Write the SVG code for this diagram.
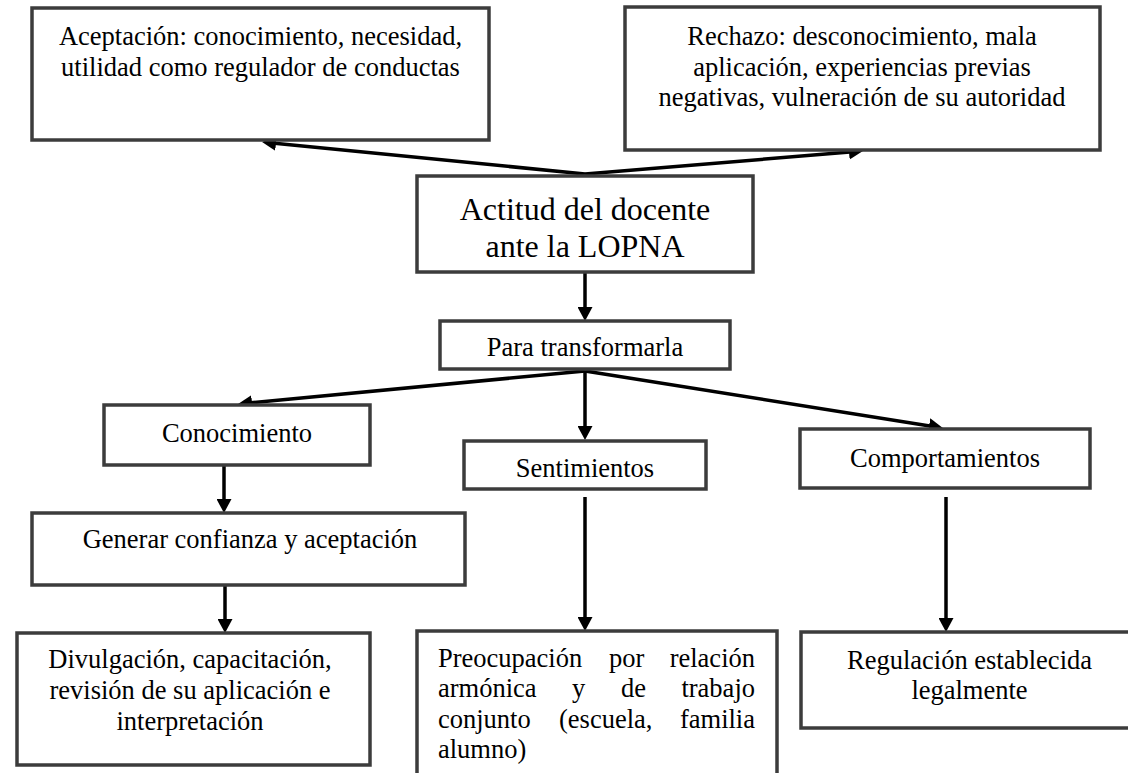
<svg xmlns="http://www.w3.org/2000/svg" width="1128" height="773" viewBox="0 0 1128 773">
<style>
.box{fill:#ffffff;stroke:#3c3c3c;stroke-width:3.5}
.t{font-family:"Liberation Serif","Times New Roman",serif;font-size:26.5px;fill:#000000}
.c{text-anchor:middle}
.e{text-anchor:end}
.big{font-size:32px}
.ln{stroke:#000000;stroke-width:3.5;fill:none;marker-end:url(#ah)}
</style>
<defs>
<marker id="ah" viewBox="0 0 14 15" refX="4" refY="7.5" markerWidth="14" markerHeight="15" markerUnits="userSpaceOnUse" orient="auto">
<path d="M0,0 L14,7.5 L0,15 z" fill="#000000"/>
</marker>
</defs>
<rect width="1128" height="773" fill="#ffffff"/>
<g id="connectors">
<line class="ln" x1="585" y1="174" x2="272" y2="143"/>
<line class="ln" x1="585" y1="174" x2="853" y2="151.8"/>
<line class="ln" x1="585" y1="272" x2="585" y2="311"/>
<line class="ln" x1="585" y1="371" x2="248" y2="403"/>
<line class="ln" x1="585" y1="371" x2="585" y2="430"/>
<line class="ln" x1="585" y1="371" x2="933" y2="426.4"/>
<line class="ln" x1="224" y1="465" x2="224" y2="503"/>
<line class="ln" x1="225" y1="585" x2="225" y2="623"/>
<line class="ln" x1="585" y1="497" x2="585" y2="621"/>
<line class="ln" x1="946" y1="497" x2="946" y2="622"/>
</g>
<g id="aceptacion">
<rect class="box" x="32" y="8" width="457" height="132"/>
<text class="t c" x="260.5" y="45">Aceptación: conocimiento, necesidad,</text>
<text class="t c" x="260.5" y="76">utilidad como regulador de conductas</text>
</g>
<g id="rechazo">
<rect class="box" x="625" y="7" width="475" height="143"/>
<text class="t c" x="862" y="45">Rechazo: desconocimiento, mala</text>
<text class="t c" x="862" y="76">aplicación, experiencias previas</text>
<text class="t c" x="862" y="106">negativas, vulneración de su autoridad</text>
</g>
<g id="actitud">
<rect class="box" x="417" y="176" width="336" height="96"/>
<text class="t c big" x="585" y="220">Actitud del docente</text>
<text class="t c big" x="585" y="257">ante la LOPNA</text>
</g>
<g id="para">
<rect class="box" x="440" y="321" width="290" height="48"/>
<text class="t c" x="585" y="356">Para transformarla</text>
</g>
<g id="conocimiento">
<rect class="box" x="104" y="405" width="266" height="60"/>
<text class="t c" x="237" y="442">Conocimiento</text>
</g>
<g id="sentimientos">
<rect class="box" x="464" y="441" width="242" height="48"/>
<text class="t c" x="585" y="477">Sentimientos</text>
</g>
<g id="comportamientos">
<rect class="box" x="800" y="429" width="290" height="59"/>
<text class="t c" x="945" y="467">Comportamientos</text>
</g>
<g id="generar">
<rect class="box" x="32" y="513" width="433" height="72"/>
<text class="t c" x="250" y="548">Generar confianza y aceptación</text>
</g>
<g id="divulgacion">
<rect class="box" x="17" y="633" width="353" height="132"/>
<text class="t c" x="190" y="668">Divulgación, capacitación,</text>
<text class="t c" x="190" y="699">revisión de su aplicación e</text>
<text class="t c" x="190" y="730">interpretación</text>
</g>
<g id="preocupacion">
<rect class="box" x="417" y="631" width="360" height="170"/>
<text class="t" y="667"><tspan x="438">Preocupación</tspan><tspan x="609">por</tspan><tspan class="e" x="755">relación</tspan></text>
<text class="t" y="697"><tspan x="438">armónica</tspan><tspan x="572">y</tspan><tspan x="621">de</tspan><tspan class="e" x="755">trabajo</tspan></text>
<text class="t" y="728"><tspan x="438">conjunto</tspan><tspan x="559">(escuela,</tspan><tspan class="e" x="755">familia</tspan></text>
<text class="t" y="758"><tspan x="438">alumno)</tspan></text>
</g>
<g id="regulacion">
<rect class="box" x="801" y="632" width="339" height="96"/>
<text class="t c" x="969.5" y="669">Regulación establecida</text>
<text class="t c" x="969.5" y="699">legalmente</text>
</g>
</svg>
